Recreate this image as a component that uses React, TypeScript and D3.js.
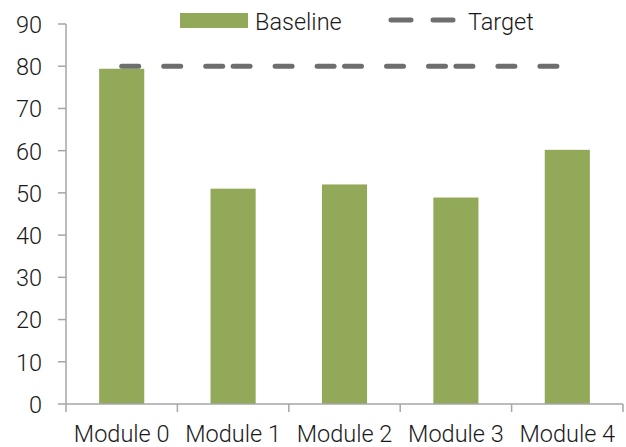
import React from "react";
import * as d3 from "d3";

const categories = ["Module 0", "Module 1", "Module 2", "Module 3", "Module 4"];
const baseline = [79.4, 51, 52, 48.9, 60.2];
const target = [80, 80, 80, 80, 80];
const yTicks = [0, 10, 20, 30, 40, 50, 60, 70, 80, 90];

const W = 626, H = 447;
const left = 66, right = 623, top = 24, bottom = 404;
const font = "Roboto, 'Liberation Sans', Arial, sans-serif";
const fw = 300;
const fs = 23.5;

export default function App() {
  const x = d3.scaleBand<string>().domain(categories).range([left, right]).paddingInner(0).paddingOuter(0);
  const y = d3.scaleLinear().domain([0, 90]).range([bottom, top]);
  const bw = x.bandwidth() * 0.405;
  const cx = (c: string) => (x(c) as number) + x.bandwidth() / 2;
  const segs = d3.pairs(categories.map((c, i) => [cx(c), y(target[i])] as [number, number]));
  const line = d3.line();
  return (
    <svg width={W} height={H} style={{ position: "absolute", left: 0, top: 0, background: "#fff" }}>
      {categories.map((c, i) => (
        <rect key={c} x={cx(c) - bw / 2} y={y(baseline[i])} width={bw} height={y(0) - y(baseline[i])} fill="#93a95a" />
      ))}
      {segs.map((s, i) => (
        <path key={i} d={line(s) as string} stroke="#6e6e6e" strokeWidth={5} strokeLinecap="round" strokeDasharray="17,25" fill="none" />
      ))}
      <line x1={left} x2={left} y1={top} y2={bottom} stroke="#a6a6a6" strokeWidth={1.5} />
      <line x1={left} x2={right} y1={bottom} y2={bottom} stroke="#a6a6a6" strokeWidth={1.5} />
      {yTicks.map((t) => (
        <g key={t}>
          <line x1={left - 8} x2={left} y1={y(t)} y2={y(t)} stroke="#a6a6a6" strokeWidth={1.5} />
          <text x={left - 24} y={y(t)} dy="0.38em" textAnchor="end" fontFamily={font} fontWeight={fw} fontSize={fs} fill="#1a1a1a">{t}</text>
        </g>
      ))}
      {categories.concat([""]).map((c, i) => {
        const px = left + i * x.bandwidth();
        return <line key={i} x1={px} x2={px} y1={bottom} y2={bottom + 8} stroke="#a6a6a6" strokeWidth={1.5} />;
      })}
      {categories.map((c) => (
        <text key={c} x={cx(c)} y={441.5} textAnchor="middle" fontFamily={font} fontWeight={fw} fontSize={fs} fill="#1a1a1a">{c}</text>
      ))}
      <rect x={180} y={13} width={68} height={15} fill="#93a95a" />
      <text x={255} y={30} fontFamily={font} fontWeight={fw} fontSize={fs} fill="#1a1a1a">Baseline</text>
      <path d="M391,20H411M433,20H453" stroke="#6e6e6e" strokeWidth={5} strokeLinecap="round" fill="none" />
      <text x={468} y={30} fontFamily={font} fontWeight={fw} fontSize={fs} fill="#1a1a1a">Target</text>
    </svg>
  );
}
